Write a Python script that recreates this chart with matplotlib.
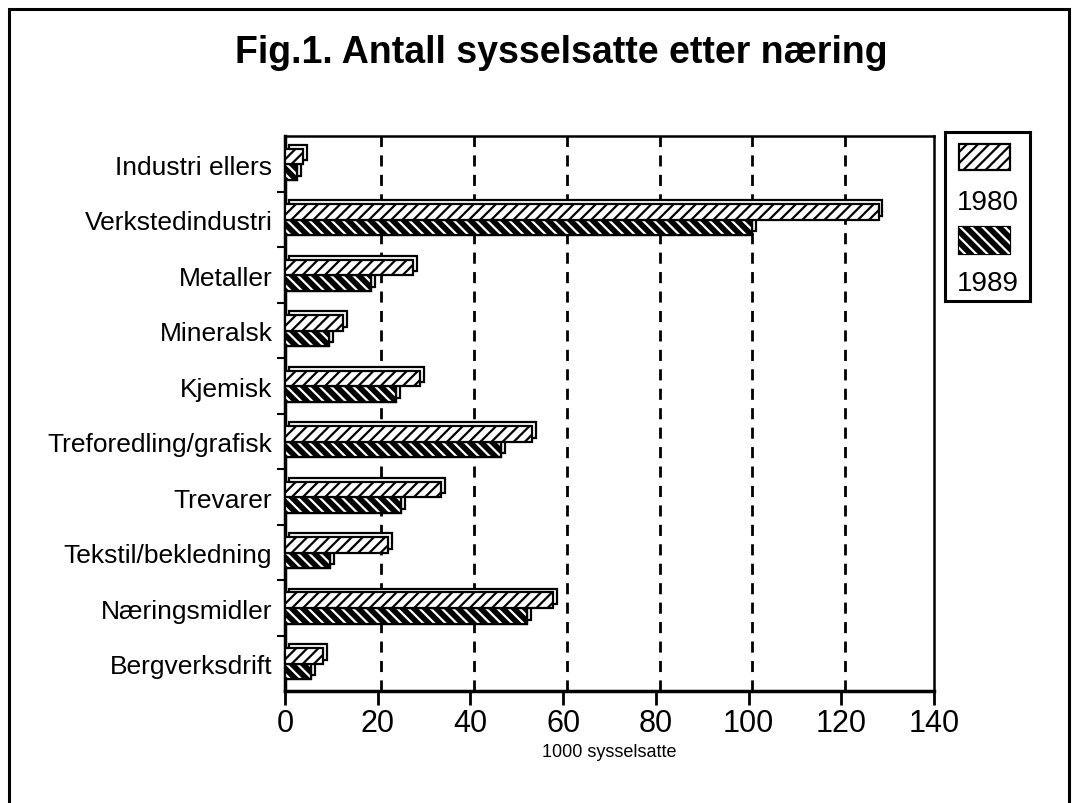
import numpy as np
import matplotlib
matplotlib.use("Agg")
import matplotlib.pyplot as plt
from matplotlib.patches import Rectangle

plt.rcParams['font.family'] = ['Liberation Sans Narrow', 'Liberation Sans', 'DejaVu Sans']
plt.rcParams['hatch.linewidth'] = 1.6

# data (1000 sysselsatte), bottom to top
naering = ["Bergverksdrift", "Næringsmidler", "Tekstil/bekledning", "Trevarer",
           "Treforedling/grafisk", "Kjemisk", "Mineralsk", "Metaller",
           "Verkstedindustri", "Industri ellers"]
ar1980 = [8.2, 57.8, 22.2, 33.6, 53.3, 29.1, 12.5, 27.6, 128.0, 3.9]
ar1989 = [5.6, 52.2, 9.8, 25.0, 46.6, 24.0, 9.5, 18.5, 100.7, 2.6]
xticks = [0, 20, 40, 60, 80, 100, 120, 140]

fig = plt.figure(figsize=(10.75, 8.04), dpi=100)

# outer frame of the page
fig.patches.append(Rectangle((0.008, -0.05), 0.986, 1.037, transform=fig.transFigure,
                             fill=False, lw=2.2, ec='black'))

fig.text(0.522, 0.934, "Fig.1. Antall sysselsatte etter næring", ha='center', va='center',
         fontsize=27, fontweight='bold')

ax = fig.add_axes([0.265, 0.139, 0.604, 0.690])
y = np.arange(len(naering))
h = 0.28
dx, dy = 0.85, 0.07

def bars(pos, vals, dark):
    # 3d depth face behind the front
    ax.barh(pos + dy, vals, height=h, left=dx, color='white', edgecolor='black', lw=1.6, zorder=3)
    if dark:
        ax.barh(pos, vals, height=h, color='black', edgecolor='black', lw=1.6, zorder=3)
        ax.barh(pos, vals, height=h, facecolor='none', edgecolor='white', hatch='\\\\\\', lw=0, zorder=3)
        ax.barh(pos, vals, height=h, facecolor='none', edgecolor='black', lw=1.6, zorder=3)
    else:
        ax.barh(pos, vals, height=h, color='white', edgecolor='black', hatch='///', lw=1.6, zorder=3)

bars(y - h / 2, np.array(ar1989), True)
bars(y + h / 2, np.array(ar1980), False)

for t in xticks[1:-1]:
    ax.axvline(t + 0.8, color='black', ls=(0, (4, 3)), lw=2, zorder=1)

ax.set_xlim(0, 140)
ax.set_ylim(-0.5, 9.5)
ax.set_xticks(xticks)
ax.set_xticklabels([str(t) for t in xticks], fontsize=22)
ax.set_yticks(y)
ax.set_yticklabels(naering, fontsize=19)
ax.set_yticks(y[:-1] + 0.5, minor=True)
ax.tick_params(axis='y', which='major', length=0, pad=9)
ax.tick_params(axis='y', which='minor', length=6, width=1.5, direction='out')
ax.tick_params(axis='x', length=10, width=2, direction='out', pad=2)
for s in ['left', 'bottom']:
    ax.spines[s].set_linewidth(2.5)
for s in ['top', 'right']:
    ax.spines[s].set_linewidth(1.8)
ax.set_xlabel("1000 sysselsatte", fontsize=13, labelpad=4)

# legend box
lg = fig.add_axes([0.879, 0.624, 0.079, 0.21])
lg.set_xlim(0, 1)
lg.set_ylim(0, 1)
lg.set_xticks([])
lg.set_yticks([])
for s in lg.spines.values():
    s.set_linewidth(2.2)
lg.add_patch(Rectangle((0.17, 0.78), 0.6, 0.15, fc='white', ec='black', hatch='///', lw=1.6))
lg.add_patch(Rectangle((0.17, 0.28), 0.6, 0.16, fc='black', ec='black', lw=1.6))
lg.add_patch(Rectangle((0.17, 0.28), 0.6, 0.16, fc='none', ec='white', hatch='\\\\\\', lw=0))
lg.text(0.5, 0.59, "1980", ha='center', va='center', fontsize=20)
lg.text(0.5, 0.11, "1989", ha='center', va='center', fontsize=20)

fig.savefig("out.png", dpi=100)
